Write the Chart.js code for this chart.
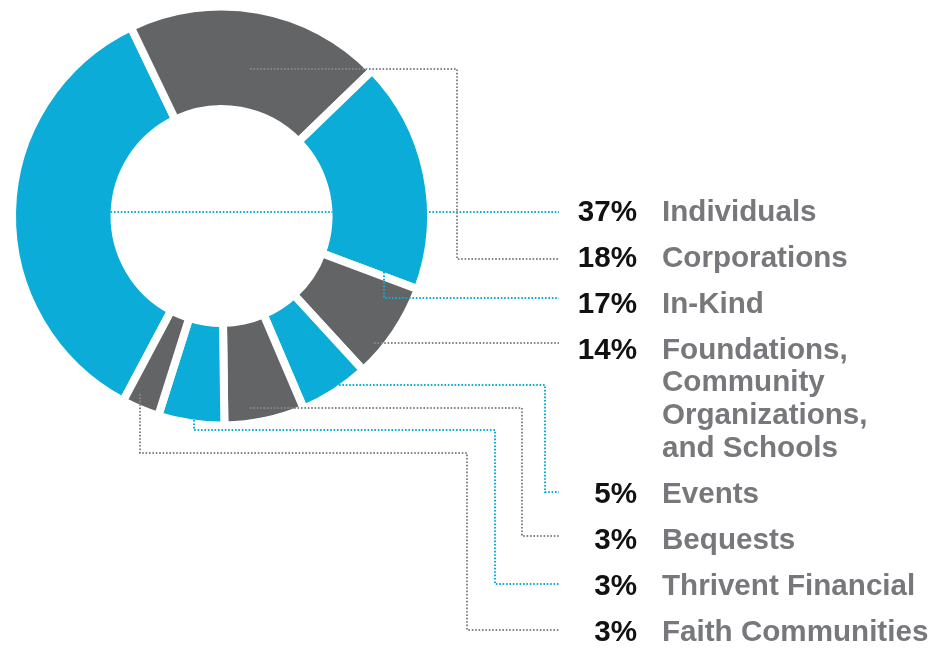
<!DOCTYPE html>
<html>
<head>
<meta charset="utf-8">
<script src="https://cdn.jsdelivr.net/npm/chart.js@4.4.1/dist/chart.umd.min.js"></script>
<style>
  html, body { margin:0; padding:0; background:#fff; }
  #wrap { position:relative; width:951px; height:657px; overflow:hidden; }
  #chart { position:absolute; left:0; top:0; }
  .pct, .name {
    position:absolute; font-family:"Liberation Sans", Arial, sans-serif;
    font-weight:bold; font-size:29.6px; line-height:32.6px; white-space:nowrap;
  }
  .pct { color:#111111; text-align:right; right:314px; }
  .name { color:#77787b; left:662px; }
</style>
</head>
<body>
<div id="wrap">
  <canvas id="chart" width="951" height="657"></canvas>
</div>
<script>
  /* ===== data ===== */
  const CATEGORIES = ["Individuals", "Corporations", "In-Kind",
    "Foundations, Community Organizations, and Schools",
    "Events", "Bequests", "Thrivent Financial", "Faith Communities"];
  // how the names break onto lines in the key
  const CATEGORY_LINES = [["Individuals"], ["Corporations"], ["In-Kind"],
    ["Foundations,", "Community", "Organizations,", "and Schools"],
    ["Events"], ["Bequests"], ["Thrivent Financial"], ["Faith Communities"]];
  const SHARE_LABELS = ["37%", "18%", "17%", "14%", "5%", "3%", "3%", "3%"];
  // slice sizes as drawn in the picture (share of the ring)
  const SLICE_VALUES = [35.1, 19.9, 17.9, 7.5, 5.4, 6.2, 5.1, 2.9];

  /* ===== style ===== */
  const BLUE = "#0bacd7", GRAY = "#636466";
  const SLICE_COLORS = CATEGORIES.map((_, i) => i % 2 ? GRAY : BLUE);
  const LEADER_COLORS = CATEGORIES.map((_, i) => i % 2 ? "#858689" : BLUE);
  const GAP = 8;

  // key layout
  const ROW_TOP = 210.7, ROW_PITCH = 46, LINE_H = 32.6, LEADER_END = 559;
  // leader routes: anchor on the ring (deg from top, share of radius), then elbows
  // "through" = runs across the hole and passes behind the ring
  const LEADERS = [
    {through:true, dy:1},
    {angle:10.8, r:0.73, elbowX:457, dy:2},
    {angle:109.1, r:0.836, drop:"row", dy:-5},
    {angle:129.9, r:0.966, dy:-5},
    {angle:145.1, r:1.0, elbowX:545, dy:-1},
    {angle:171.7, r:0.946, elbowX:522, dy:-2.5},
    {angle:187.8, r:1.0, drop:430, elbowX:495, dy:-1},
    {angle:204.6, r:0.95, drop:453, elbowX:467, dy:-0.5}
  ];

  // row centre of each key entry
  const rowY = [];
  let extra = 0;
  CATEGORY_LINES.forEach((lines, i) => {
    rowY.push(ROW_TOP + i*ROW_PITCH + extra*LINE_H);
    extra += lines.length - 1;
  });

  /* ===== key text ===== */
  const wrap = document.getElementById("wrap");
  CATEGORY_LINES.forEach((lines, i) => {
    const p = document.createElement("div");
    p.className = "pct";
    p.textContent = SHARE_LABELS[i];
    p.style.top = (rowY[i] - 16) + "px";
    wrap.appendChild(p);
    lines.forEach((t, k) => {
      const n = document.createElement("div");
      n.className = "name";
      n.textContent = t;
      n.style.top = (rowY[i] + k*LINE_H - 16) + "px";
      wrap.appendChild(n);
    });
  });

  /* ===== leader lines ===== */
  const snap = v => Math.round(v);
  const leaderPlugin = {
    id:"leaders",
    afterDatasetsDraw(chart){
      const arc = chart.getDatasetMeta(0).data[0];
      if(!arc) return;
      const cx = arc.x, cy = arc.y;
      const R = arc.outerRadius - GAP/2;     // visible ring edges
      const hole = arc.innerRadius + GAP/2;
      const ctx = chart.ctx;
      ctx.save();
      ctx.lineWidth = 2;
      ctx.setLineDash([1.6, 1.8]);
      LEADERS.forEach((L, i) => {
        const endY = snap(rowY[i] + L.dy);
        ctx.strokeStyle = LEADER_COLORS[i];
        ctx.beginPath();
        if(L.through){
          const dy = endY - cy;
          const h = Math.sqrt(hole*hole - dy*dy), o = Math.sqrt(R*R - dy*dy);
          ctx.moveTo(cx - h, endY); ctx.lineTo(cx + h, endY);
          ctx.moveTo(cx + o + 2, endY); ctx.lineTo(LEADER_END, endY);
          ctx.stroke();
          return;
        }
        const a = L.angle * Math.PI / 180;
        let x = snap(cx + R*L.r*Math.sin(a)), y = snap(cy - R*L.r*Math.cos(a));
        ctx.moveTo(x, y);
        if(L.drop !== undefined){
          y = L.drop === "row" ? endY : L.drop;
          ctx.lineTo(x, y);
        }
        if(L.elbowX !== undefined){
          x = L.elbowX;
          ctx.lineTo(x, y);
          y = endY;
          ctx.lineTo(x, y);
        }
        ctx.lineTo(LEADER_END, y);
        ctx.stroke();
      });
      ctx.restore();
    }
  };

  /* ===== chart ===== */
  new Chart(document.getElementById("chart"), {
    type:"doughnut",
    data:{
      labels:CATEGORIES,
      datasets:[{
        data:SLICE_VALUES,
        backgroundColor:SLICE_COLORS,
        borderColor:"#ffffff",
        borderWidth:GAP
      }]
    },
    options:{
      responsive:false,
      animation:false,
      events:[],
      rotation:208,
      radius:209.5,
      cutout:"51.07%",
      layout:{padding:{left:12, top:6.5, right:520, bottom:231.5}},
      plugins:{legend:{display:false}, tooltip:{enabled:false}}
    },
    plugins:[leaderPlugin]
  });
</script>
</body>
</html>
